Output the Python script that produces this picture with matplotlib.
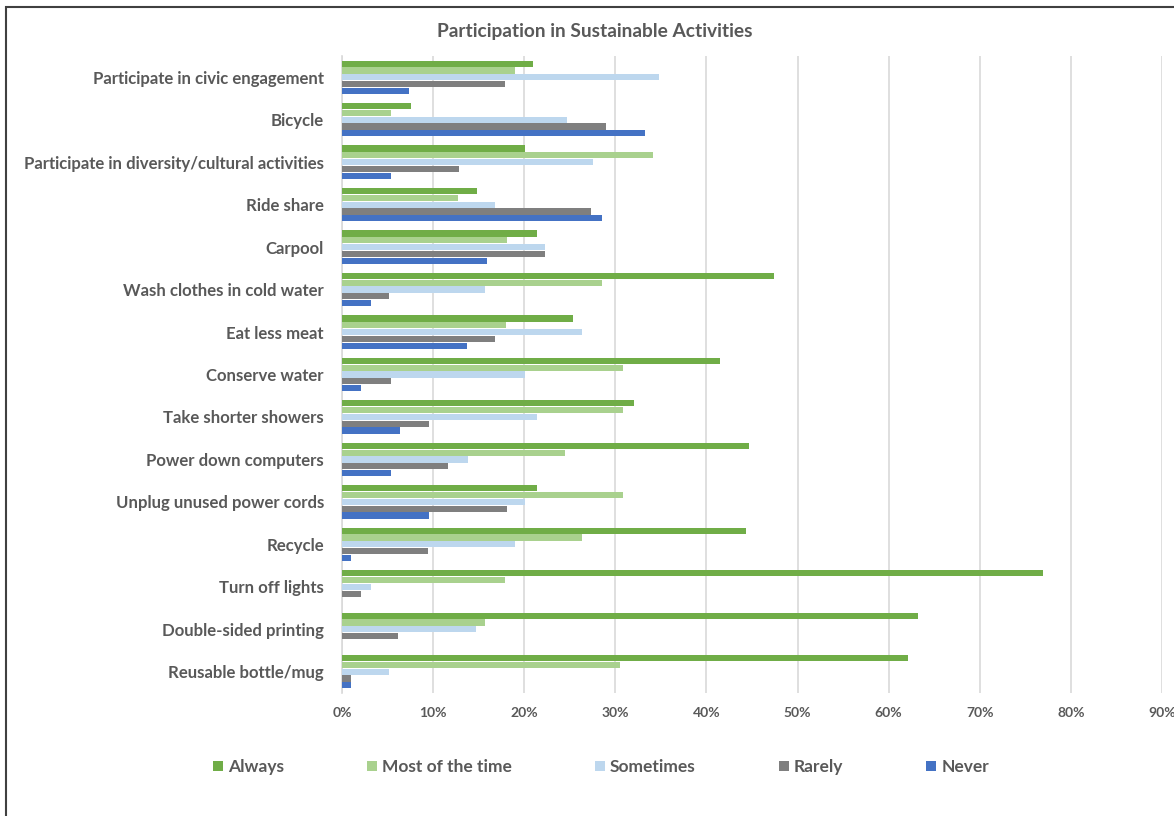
import numpy as np
import matplotlib.pyplot as plt
from matplotlib.patches import Rectangle
from matplotlib.ticker import PercentFormatter

activities = [
    'Participate in civic engagement',
    'Bicycle',
    'Participate in diversity/cultural activities',
    'Ride share',
    'Carpool',
    'Wash clothes in cold water',
    'Eat less meat',
    'Conserve water',
    'Take shorter showers',
    'Power down computers',
    'Unplug unused power cords',
    'Recycle',
    'Turn off lights',
    'Double-sided printing',
    'Reusable bottle/mug',
]

# share of respondents (%) per answer
always = [21.0, 7.6, 20.1, 14.8, 21.4, 47.4, 25.3, 41.5, 32.0, 44.7, 21.4, 44.3, 76.9, 63.2, 62.1]
most_of_time = [19.0, 5.4, 34.1, 12.7, 18.1, 28.5, 18.0, 30.8, 30.8, 24.5, 30.8, 26.3, 17.9, 15.7, 30.5]
sometimes = [34.8, 24.7, 27.6, 16.8, 22.3, 15.7, 26.3, 20.1, 21.4, 13.8, 20.1, 19.0, 3.2, 14.7, 5.2]
rarely = [17.9, 29.0, 12.8, 27.3, 22.3, 5.2, 16.8, 5.35, 9.6, 11.6, 18.1, 9.45, 2.1, 6.2, 0.95]
never = [7.4, 33.3, 5.4, 28.5, 15.9, 3.2, 13.7, 2.1, 6.4, 5.35, 9.6, 1.0, 0.0, 0.0, 1.0]

series = [
    ('Always', always, '#70AD47'),
    ('Most of the time', most_of_time, '#A9D18E'),
    ('Sometimes', sometimes, '#BDD7EE'),
    ('Rarely', rarely, '#7F7F7F'),
    ('Never', never, '#4472C4'),
]

text_color = '#595959'
plt.rcParams['font.family'] = ['Lato', 'DejaVu Sans']
plt.rcParams['font.weight'] = 'bold'

fig = plt.figure(figsize=(11.74, 8.16), dpi=100)
ax = fig.add_axes([342 / 1174, 1 - 693 / 816, 820 / 1174, 637 / 816])

y = np.arange(len(activities))
step = 0.16
for i, (name, vals, col) in enumerate(series):
    ax.barh(y + (i - 2) * step, np.array(vals) / 100, height=0.145,
            color=col, label=name, linewidth=0, zorder=3)

ax.set_ylim(len(activities) - 0.5, -0.5)
ax.set_xlim(0, 0.9)
ax.set_xticks(np.arange(0, 0.91, 0.1))
ax.xaxis.set_major_formatter(PercentFormatter(1.0, decimals=0))
ax.set_yticks(y)
ax.set_yticklabels(activities)

ax.grid(axis='x', color='#D9D9D9', linewidth=1.2, zorder=0)
for s in ['top', 'right', 'bottom']:
    ax.spines[s].set_visible(False)
ax.spines['left'].set_color('#D9D9D9')
ax.spines['left'].set_linewidth(1.2)
ax.tick_params(axis='y', length=0, pad=13, labelsize=12.1, labelcolor=text_color)
ax.tick_params(axis='x', length=0, pad=10, labelsize=10, labelcolor=text_color)
for lbl in ax.get_xticklabels() + ax.get_yticklabels():
    lbl.set_fontweight('bold')

fig.text(595 / 1174, 1 - 31 / 816, 'Participation in Sustainable Activities',
         ha='center', va='center', fontsize=13.8, fontweight='bold', color=text_color)

fig.legend(loc='center', bbox_to_anchor=(601 / 1174, 1 - 767 / 816), ncol=5,
           frameon=False, labelcolor=text_color,
           handlelength=0.55, handleheight=0.55, handletextpad=0.3,
           columnspacing=4.8, prop={'weight': 'bold', 'size': 12.5})

# chart border
fig.patches.append(Rectangle((6 / 1174, -0.05), 1.2, 1 - 7 / 816 + 0.05,
                             transform=fig.transFigure, fill=False,
                             edgecolor='#404040', linewidth=1.5))

fig.savefig('out.png', dpi=100, facecolor='white')
